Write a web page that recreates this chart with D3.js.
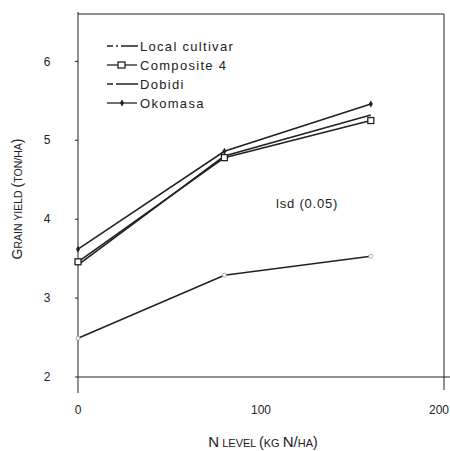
<!DOCTYPE html>
<html>
<head>
<meta charset="utf-8">
<script src="https://cdn.jsdelivr.net/npm/d3@7"></script>
<style>
  body { margin: 0; background: #fff; }
  text { font-family: "Liberation Sans", Arial, sans-serif; fill: #222; }
</style>
</head>
<body>
<svg id="chart"></svg>
<script>
const nLevels = [0, 80, 160];
const localCultivar = [2.49, 3.29, 3.53];
const composite4 = [3.46, 4.78, 5.25];
const dobidi = [3.42, 4.80, 5.32];
const okomasa = [3.62, 4.86, 5.46];
const seriesNames = ['Local cultivar', 'Composite 4', 'Dobidi', 'Okomasa'];
const xTicks = [0, 100, 200];
const yTicks = [2, 3, 4, 5, 6];

const [width, height] = [450, 451];

let svg = d3.select('#chart')
  .attr('width', width)
  .attr('height', height)

let x = d3.scaleLinear().domain([0, 200]).range([78, 444])
let y = d3.scaleLinear().domain([2, 6.6]).range([377, 14])

let ink = '#222'

// frame
svg.append('line').attr('x1', x(0)).attr('x2', 450).attr('y1', y(2)).attr('y2', y(2))
  .attr('stroke', ink).attr('stroke-width', 1)
svg.append('line').attr('x1', x(0)).attr('x2', x(200)).attr('y1', y(6.6)).attr('y2', y(6.6))
  .attr('stroke', ink).attr('stroke-width', 1)
svg.append('line').attr('x1', x(0)).attr('x2', x(0)).attr('y1', y(6.6) - 2).attr('y2', 393)
  .attr('stroke', ink).attr('stroke-width', 1)
svg.append('line').attr('x1', x(200)).attr('x2', x(200)).attr('y1', y(6.6)).attr('y2', 390)
  .attr('stroke', ink).attr('stroke-width', 1)

// tick labels
svg.append('g').selectAll('text')
  .data(yTicks)
  .enter()
  .append('text')
  .attr('x', 47)
  .attr('y', d => y(d))
  .attr('dy', '0.35em')
  .attr('text-anchor', 'middle')
  .style('font-size', '12px')
  .text(d => d)

svg.append('g').selectAll('text')
  .data(xTicks)
  .enter()
  .append('text')
  .attr('x', d => d === 200 ? 449 : x(d))
  .attr('y', 414)
  .attr('text-anchor', d => d === 200 ? 'end' : 'middle')
  .style('font-size', '12px')
  .text(d => d)

svg.append('g').selectAll('line')
  .data(yTicks)
  .enter()
  .append('line')
  .attr('x1', x(0) - 3).attr('x2', x(0))
  .attr('y1', d => y(d)).attr('y2', d => y(d))
  .attr('stroke', ink)

// axis titles, small caps style
let yt = svg.append('text')
  .attr('transform', 'translate(22,' + 199 + ') rotate(-90)')
  .attr('text-anchor', 'middle')
  .style('font-size', '10.5px')
yt.append('tspan').style('font-size', '14px').text('G')
yt.append('tspan').text('RAIN YIELD ')
yt.append('tspan').style('font-size', '14px').text('(')
yt.append('tspan').text('TON/HA')
yt.append('tspan').style('font-size', '14px').text(')')

let xt = svg.append('text')
  .attr('x', 263)
  .attr('y', 447)
  .attr('text-anchor', 'middle')
  .style('font-size', '11px')
xt.append('tspan').style('font-size', '15px').text('N')
xt.append('tspan').text(' LEVEL ')
xt.append('tspan').style('font-size', '14px').text('(')
xt.append('tspan').text('KG ')
xt.append('tspan').style('font-size', '15px').text('N/')
xt.append('tspan').text('HA')
xt.append('tspan').style('font-size', '14px').text(')')

// series lines
let seriesData = [localCultivar, composite4, dobidi, okomasa]
let line = d3.line()
  .x((d, i) => x(nLevels[i]))
  .y(d => y(d))

svg.append('g').selectAll('path')
  .data(seriesData)
  .enter()
  .append('path')
  .attr('d', d => line(d))
  .attr('fill', 'none')
  .attr('stroke', ink)
  .attr('stroke-width', 1.6)

// markers
svg.append('g').selectAll('rect')
  .data(composite4)
  .enter()
  .append('rect')
  .attr('x', (d, i) => x(nLevels[i]) - 3)
  .attr('y', d => y(d) - 3)
  .attr('width', 6).attr('height', 6)
  .attr('fill', '#fff').attr('stroke', ink).attr('stroke-width', 1.3)

svg.append('g').selectAll('path')
  .data(okomasa)
  .enter()
  .append('path')
  .attr('transform', (d, i) => 'translate(' + x(nLevels[i]) + ',' + y(d) + ')')
  .attr('d', d3.symbol(d3.symbolDiamond, 14))
  .attr('fill', ink)

svg.append('g').selectAll('circle')
  .data(localCultivar)
  .enter()
  .append('circle')
  .attr('cx', (d, i) => x(nLevels[i]))
  .attr('cy', d => y(d))
  .attr('r', 2)
  .attr('fill', '#fff').attr('stroke', '#999').attr('stroke-width', 0.8)

// lsd label
svg.append('text')
  .attr('x', 276)
  .attr('y', 208)
  .style('font-size', '13px')
  .style('letter-spacing', '0.8px')
  .text('lsd  (0.05)')

// legend
let legend = svg.append('g')
  .selectAll('g')
  .data(seriesNames)
  .enter()
  .append('g')
  .attr('transform', (d, i) => 'translate(107,' + [46, 65, 84, 103][i] + ')')

legend.append('line')
  .attr('x1', 0).attr('x2', 31).attr('y1', 0).attr('y2', 0)
  .attr('stroke', ink).attr('stroke-width', 1.3)
  .attr('stroke-dasharray', (d, i) => ['6,3,2,3,20', '30', '6,3,30', '30'][i])

legend.filter((d, i) => i === 1).append('rect')
  .attr('x', 11).attr('y', -3).attr('width', 7).attr('height', 6)
  .attr('fill', '#fff').attr('stroke', ink).attr('stroke-width', 1.3)

legend.filter((d, i) => i === 3).append('path')
  .attr('transform', 'translate(15,0)')
  .attr('d', d3.symbol(d3.symbolDiamond, 14))
  .attr('fill', ink)

legend.append('text')
  .attr('x', 33)
  .attr('dy', '0.35em')
  .style('font-size', '13px')
  .style('letter-spacing', '1.3px')
  .text(d => d)
</script>
</body>
</html>
